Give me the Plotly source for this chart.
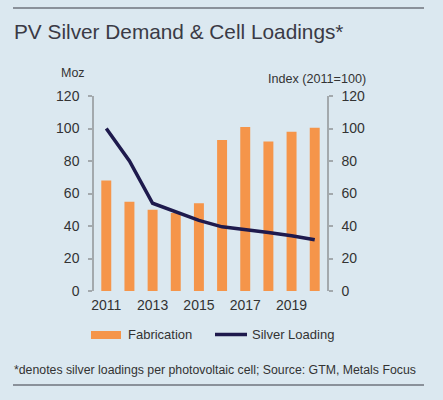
import plotly.graph_objects as go

years = [2011, 2012, 2013, 2014, 2015, 2016, 2017, 2018, 2019, 2020]
fabrication = [68, 55, 50, 48, 54, 93, 101, 92, 98, 100.5]
silver_loading = [100, 80, 54, 49, 43.5, 39.5, 38, 36, 34, 31.5]
tick_years = [2011, 2013, 2015, 2017, 2019]
y_ticks = [0, 20, 40, 60, 80, 100, 120]

BG = "#dbe8f0"
ORANGE = "#f5954a"
NAVY = "#1e1a4d"
TXT = "#333333"
AX = "#a3a9ad"
FONT = "Liberation Sans"

L, R, T, B = 94, 327, 96, 291
W = R - L
H = B - T

fig = go.Figure()
fig.add_trace(go.Bar(x=years, y=fabrication, name="Fabrication",
                     marker=dict(color=ORANGE, line=dict(width=0)),
                     width=0.43, yaxis="y", showlegend=False))
fig.add_trace(go.Scatter(x=years, y=silver_loading, name="Silver Loading",
                         mode="lines", line=dict(color=NAVY, width=3.5),
                         yaxis="y2", showlegend=False))

axis_common = dict(range=[0, 120], tickvals=y_ticks, showgrid=False, zeroline=False,
                   showline=True, linecolor=AX, linewidth=1.5, ticks="outside",
                   ticklen=4, tickcolor=AX, tickwidth=1.5, ticklabelstandoff=6,
                   automargin=False,
                   tickfont=dict(size=14, color=TXT, family=FONT))

fig.update_layout(
    width=443, height=400,
    paper_bgcolor=BG, plot_bgcolor=BG,
    margin=dict(l=L, r=443 - R, t=T, b=400 - B),
    font=dict(family=FONT, color=TXT),
    xaxis=dict(range=[2010.47, 2020.53], tickvals=tick_years, showgrid=False,
               zeroline=False, showline=False, ticks="", automargin=False,
               ticklabelstandoff=4,
               tickfont=dict(size=14, color=TXT, family=FONT)),
    yaxis=dict(**axis_common, side="left"),
    yaxis2=dict(**axis_common, side="right", overlaying="y"),
    showlegend=False,
)


def px(x):
    return (x - L) / W


def py(y):
    return (B - y) / H


# Horizontal rules
for yy in (8, 385):
    fig.add_shape(type="line", xref="paper", yref="paper",
                  x0=px(13), x1=px(424), y0=py(yy), y1=py(yy),
                  line=dict(color="#3a3a45", width=1.2))

# Title
fig.add_annotation(text="PV Silver Demand & Cell Loadings*", xref="paper", yref="paper",
                   x=px(12), y=py(31), xanchor="left", yanchor="middle", showarrow=False,
                   font=dict(size=20.8, color="#3a3a45", family=FONT))
# Axis titles
fig.add_annotation(text="Moz", xref="paper", yref="paper", x=px(59), y=py(73),
                   xanchor="left", yanchor="middle", showarrow=False,
                   font=dict(size=12.5, color=TXT, family=FONT))
fig.add_annotation(text="Index (2011=100)", xref="paper", yref="paper", x=px(368), y=py(79),
                   xanchor="right", yanchor="middle", showarrow=False,
                   font=dict(size=12.6, color=TXT, family=FONT))

# Custom legend
fig.add_shape(type="rect", xref="paper", yref="paper", x0=px(91), x1=px(121),
              y0=py(331), y1=py(339), fillcolor=ORANGE, line=dict(width=0))
fig.add_annotation(text="Fabrication", xref="paper", yref="paper", x=px(126), y=py(334),
                   xanchor="left", yanchor="middle", showarrow=False,
                   font=dict(size=13, color=TXT, family=FONT))
fig.add_shape(type="line", xref="paper", yref="paper", x0=px(215), x1=px(247),
              y0=py(334.5), y1=py(334.5), line=dict(color=NAVY, width=3.5))
fig.add_annotation(text="Silver Loading", xref="paper", yref="paper", x=px(250), y=py(334),
                   xanchor="left", yanchor="middle", showarrow=False,
                   font=dict(size=13, color=TXT, family=FONT))

# Footnote
fig.add_annotation(text="*denotes silver loadings per photovoltaic cell; Source: GTM, Metals Focus",
                   xref="paper", yref="paper", x=px(12), y=py(370),
                   xanchor="left", yanchor="middle", showarrow=False,
                   font=dict(size=12.3, color=TXT, family=FONT))

fig.write_html("out.html", config={"displayModeBar": False},
               post_script="document.body.style.margin='0';")
